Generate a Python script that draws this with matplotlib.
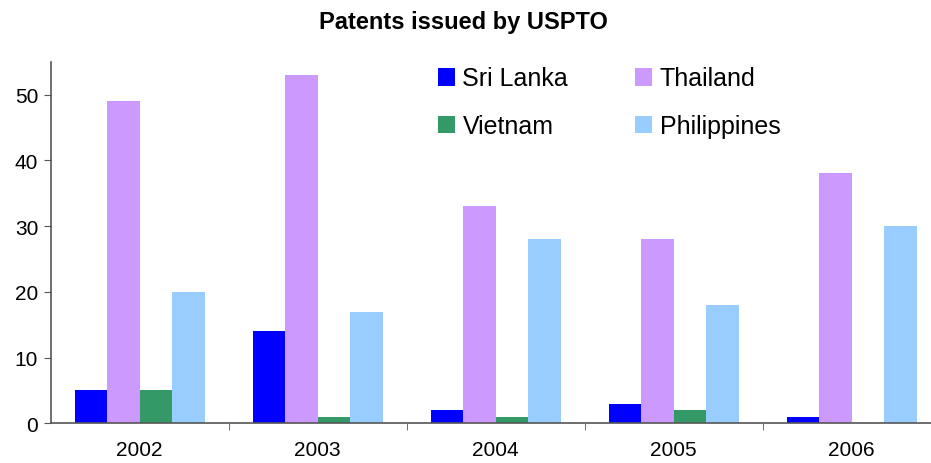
import numpy as np
import matplotlib
matplotlib.use("Agg")
import matplotlib.pyplot as plt
from matplotlib.patches import Patch

plt.rcParams['font.family'] = ['Liberation Sans', 'DejaVu Sans']

years = ['2002', '2003', '2004', '2005', '2006']
sri_lanka = [5, 14, 2, 3, 1]
thailand = [49, 53, 33, 28, 38]
vietnam = [5, 1, 1, 2, 0]
philippines = [20, 17, 28, 18, 30]

names = ['Sri Lanka', 'Thailand', 'Vietnam', 'Philippines']
colors = ['#0000FF', '#CC99FF', '#339966', '#99CCFF']
series = [sri_lanka, thailand, vietnam, philippines]

fig = plt.figure(figsize=(9.31, 4.64), dpi=100)
ax = fig.add_axes([50.7 / 931, 39.7 / 464, 5 * 178 / 931, 361.6 / 464])

x = np.arange(len(years))
w = 0.183
for i, (vals, c) in enumerate(zip(series, colors)):
    ax.bar(x + (i - 1.5) * w, vals, width=w, color=c, linewidth=0)

ax.set_xlim(-0.5, 4.5)
ax.set_ylim(0, 55)
ax.set_yticks(range(0, 51, 10))
ax.set_xticks(x)
ax.set_xticklabels(years)
ax.set_xticks(np.arange(0.5, 4.5, 1), minor=True)
ax.tick_params(axis='x', which='major', length=0, pad=12, labelsize=15)
ax.tick_params(axis='x', which='minor', length=5, direction='out', color='#555555')
ax.tick_params(axis='y', length=5, direction='out', color='#555555', labelsize=15, pad=4)

for s in ['top', 'right']:
    ax.spines[s].set_visible(False)
for s in ['left', 'bottom']:
    ax.spines[s].set_color('#555555')
    ax.spines[s].set_linewidth(1.2)

fig.text(463 / 931, 1 - 22 / 464, 'Patents issued by USPTO', ha='center', va='center',
         fontsize=17, fontweight='bold')

# column-wise fill: row 1 Sri Lanka / Thailand, row 2 Vietnam / Philippines
order = [0, 2, 1, 3]
handles = [Patch(facecolor=colors[k], edgecolor='none') for k in order]
labels = [names[k] for k in order]
ax.legend(handles, labels, ncol=2, frameon=False, fontsize=18,
          loc='upper left', bbox_to_anchor=(425 / 931, 1 - 55 / 464),
          bbox_transform=fig.transFigure,
          handlelength=0.7, handleheight=0.7, handletextpad=0.3,
          columnspacing=2.65, labelspacing=0.95, borderpad=0)

fig.savefig('out.png', dpi=100)
